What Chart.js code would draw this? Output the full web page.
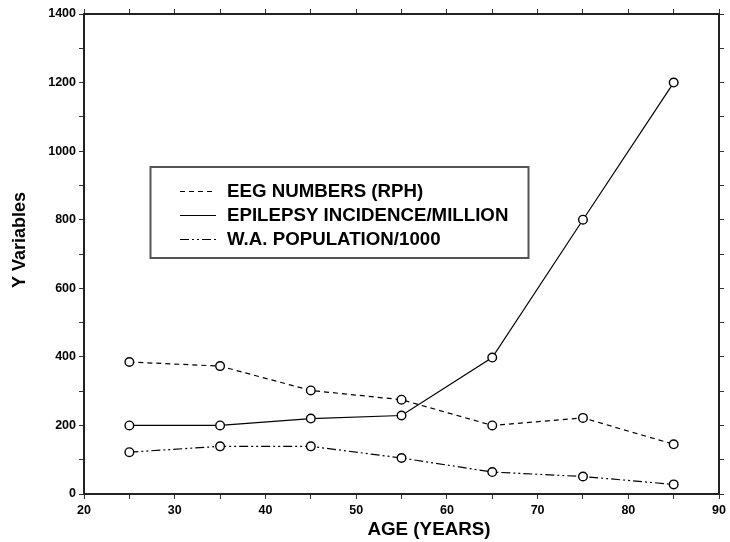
<!DOCTYPE html>
<html lang="en">
<head>
  <meta charset="UTF-8">
  <title>EEG numbers, epilepsy incidence and population by age</title>
  <script src="https://cdn.jsdelivr.net/npm/chart.js"></script>
  <style>
    body { margin: 0; background: #fff; }
    canvas { display: block; }
  </style>
</head>
<body>
  <canvas id="chart" width="730" height="542"></canvas>
  <script>
    // values
    const ages = [25, 35, 45, 55, 65, 75, 85];
    const eegNumbers = [385, 373, 302, 275, 200, 222, 145];
    const epilepsyIncidence = [200, 200, 220, 229, 398, 800, 1200];
    const waPopulation = [122, 139, 139, 105, 64, 51, 28];
    const seriesNames = ['EEG NUMBERS (RPH)', 'EPILEPSY INCIDENCE/MILLION', 'W.A. POPULATION/1000'];

    const FONT = 'Liberation Sans, Arial, Helvetica, sans-serif';

    function points(values) {
      return ages.map((a, i) => ({ x: a, y: values[i] }));
    }

    function series(label, values, dash) {
      return {
        label: label,
        data: points(values),
        borderColor: '#000',
        borderWidth: 1.2,
        borderDash: dash,
        pointRadius: 4.3,
        pointBackgroundColor: '#fff',
        pointBorderColor: '#000',
        pointBorderWidth: 1.4,
        tension: 0,
        fill: false
      };
    }

    // axis titles + boxed legend, placed like the original plot
    const decorations = {
      id: 'decorations',
      afterDraw(chart) {
        const ctx = chart.ctx;
        ctx.save();
        ctx.fillStyle = '#000';
        ctx.font = 'bold 18.8px ' + FONT;
        ctx.textAlign = 'center';
        ctx.textBaseline = 'middle';
        ctx.fillText('AGE (YEARS)', 429, 530);

        ctx.save();
        ctx.translate(20, 240);
        ctx.rotate(-Math.PI / 2);
        ctx.font = 'bold 18px ' + FONT;
        ctx.fillText('Y Variables', 0, 0);
        ctx.restore();

        // legend box
        ctx.strokeStyle = '#555';
        ctx.lineWidth = 2;
        ctx.strokeRect(150.5, 167, 378, 91);

        ctx.font = 'bold 18.7px ' + FONT;
        ctx.textAlign = 'left';
        chart.data.datasets.forEach((ds, i) => {
          const y = 191 + i * 24;
          ctx.strokeStyle = '#000';
          ctx.lineWidth = 1.2;
          ctx.setLineDash(ds.borderDash || []);
          ctx.beginPath();
          ctx.moveTo(180, y + 0.5);
          ctx.lineTo(216, y + 0.5);
          ctx.stroke();
          ctx.setLineDash([]);
          ctx.fillText(ds.label, 227, y + 1);
        });
        ctx.restore();
      }
    };

    const tickFont = { family: FONT, size: 12.5, weight: 'bold' };
    const axisGrid = { drawOnChartArea: false, drawTicks: true, tickLength: 5, color: '#333', tickWidth: 1 };
    const axisBorder = { display: true, width: 2, color: '#222' };

    new Chart(document.getElementById('chart'), {
      type: 'line',
      data: {
        datasets: [
          series(seriesNames[0], eegNumbers, [5, 4]),
          series(seriesNames[1], epilepsyIncidence, []),
          series(seriesNames[2], waPopulation, [9, 3, 2, 3, 2, 3])
        ]
      },
      options: {
        responsive: false,
        animation: false,
        layout: { padding: 0 },
        plugins: {
          legend: { display: false },
          tooltip: { enabled: false }
        },
        scales: {
          x: {
            type: 'linear', position: 'bottom', min: 20, max: 90,
            ticks: {
              stepSize: 5, autoSkip: false, maxRotation: 0, padding: 4,
              color: '#000', font: tickFont,
              callback: v => (v % 10 === 0 ? v : '')
            },
            grid: axisGrid, border: axisBorder,
            afterFit: s => { s.height = 48; }
          },
          x2: {
            type: 'linear', position: 'top', min: 20, max: 90,
            ticks: { stepSize: 5, display: false },
            grid: axisGrid, border: axisBorder,
            afterFit: s => { s.height = 14; }
          },
          y: {
            type: 'linear', position: 'left', min: 0, max: 1400,
            ticks: {
              stepSize: 100, autoSkip: false, padding: 3,
              color: '#000', font: tickFont,
              callback: v => (v % 200 === 0 ? v : '')
            },
            grid: axisGrid, border: axisBorder,
            afterFit: s => { s.width = 84; }
          },
          y2: {
            type: 'linear', position: 'right', min: 0, max: 1400,
            ticks: { stepSize: 100, display: false },
            grid: axisGrid, border: axisBorder,
            afterFit: s => { s.width = 9; }
          }
        }
      },
      plugins: [decorations]
    });
  </script>
</body>
</html>
